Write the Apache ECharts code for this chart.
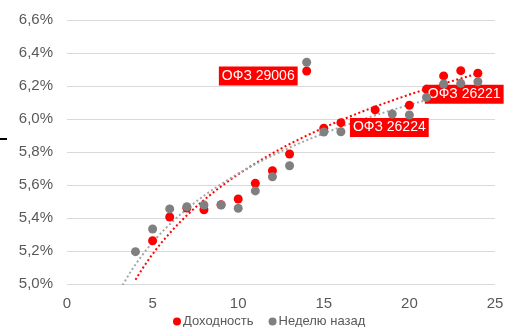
<!DOCTYPE html>
<html>
<head>
<meta charset="utf-8">
<script src="https://cdn.jsdelivr.net/npm/echarts@6/dist/echarts.min.js"></script>
<style>
  html, body { margin: 0; padding: 0; background: #fff; }
  #chart { width: 514px; height: 327px; }
</style>
</head>
<body>
<div id="chart"></div>
<script>
// Years to maturity and yields, %
const yieldX    = [5, 6, 7, 8, 9, 10, 11, 12, 13, 14, 15, 16, 18, 20, 21, 22, 23, 24];
const yieldNow  = [5.262, 5.406, 5.46, 5.45, 5.48, 5.515, 5.61, 5.687, 5.788, 6.291, 5.944, 5.978, 6.055, 6.083, 6.18, 6.261, 6.293, 6.277];

const weekAgoX  = [4, 5, 6, 7, 8, 9, 10, 11, 12, 13, 14, 15, 16, 19, 20, 21, 22, 23, 24];
const weekAgo   = [5.196, 5.333, 5.455, 5.468, 5.479, 5.479, 5.459, 5.564, 5.65, 5.717, 6.344, 5.921, 5.923, 6.03, 6.024, 6.131, 6.212, 6.216, 6.226];

// Bond names shown next to the current-yield points
const bondLabelX    = [14, 16, 21];
const bondLabelText = ['ОФЗ 29006', 'ОФЗ 26224', 'ОФЗ 26221'];

const yTicks = { min: 5.0, max: 6.6, step: 0.2 };
const xTicks = { min: 0, max: 25, step: 5 };

const RED = '#FF0000';
const GREY = '#808080';
const TEXT = '#595959';

// Logarithmic least-squares trend y = a + b*ln(x)
function logTrend(xs, ys) {
  const n = xs.length;
  const lx = xs.map(Math.log);
  const mx = lx.reduce((s, v) => s + v, 0) / n;
  const my = ys.reduce((s, v) => s + v, 0) / n;
  let sxy = 0, sxx = 0;
  for (let i = 0; i < n; i++) {
    sxy += (lx[i] - mx) * (ys[i] - my);
    sxx += (lx[i] - mx) * (lx[i] - mx);
  }
  const b = sxy / sxx;
  const a = my - b * mx;
  const from = Math.min(...xs) - 1;
  const to = Math.max(...xs);
  const pts = [];
  for (let x = from; x <= to + 1e-9; x += 0.1) pts.push([x, a + b * Math.log(x)]);
  return pts;
}

// Label offsets (relative to the symbol box) for each bond name
const labelPlacement = {
  14: { position: [-4.5, 9.5], align: 'right' },
  16: { position: [13.5, 9.3], align: 'left' },
  21: { position: [2.8, 9.5], align: 'left' }
};

const nowData = yieldX.map((x, i) => {
  const li = bondLabelX.indexOf(x);
  if (li < 0) return [x, yieldNow[i]];
  const p = labelPlacement[x];
  return {
    value: [x, yieldNow[i]],
    label: {
      show: true,
      formatter: bondLabelText[li],
      position: p.position,
      align: p.align,
      verticalAlign: 'middle',
      color: '#fff',
      backgroundColor: RED,
      fontFamily: 'Liberation Sans, Arial, sans-serif',
      fontSize: 14,
      padding: [3, 3, 2, 3]
    }
  };
});
const weekData = weekAgoX.map((x, i) => [x, weekAgo[i]]);

const chart = echarts.init(document.getElementById('chart'), null, { renderer: 'canvas' });

chart.setOption({
  animation: false,
  backgroundColor: '#fff',
  textStyle: { fontFamily: 'Liberation Sans, Arial, sans-serif' },
  grid: { left: 67, right: 19, top: 20, bottom: 43, containLabel: false },
  legend: {
    data: [
      { name: 'Доходность', icon: 'circle', itemStyle: { color: RED, opacity: 1 } },
      { name: 'Неделю назад', icon: 'circle', itemStyle: { color: GREY, opacity: 1 } }
    ],
    left: 168,
    top: 310,
    itemWidth: 8,
    itemHeight: 8,
    itemGap: 15,
    textStyle: { color: TEXT, fontSize: 13, padding: [0, 0, 0, -3] }
  },
  xAxis: {
    type: 'value',
    min: xTicks.min,
    max: xTicks.max,
    interval: xTicks.step,
    axisLine: { show: false },
    axisTick: { show: false },
    splitLine: { show: false },
    axisLabel: { color: TEXT, fontSize: 15, margin: 12 }
  },
  yAxis: {
    type: 'value',
    min: yTicks.min,
    max: yTicks.max,
    interval: yTicks.step,
    axisLine: { show: false },
    axisTick: { show: false },
    splitLine: { lineStyle: { color: '#D9D9D9', width: 1 } },
    axisLabel: {
      color: TEXT,
      fontSize: 15,
      margin: 14,
      formatter: v => v.toFixed(1).replace('.', ',') + '%'
    }
  },
  series: [
    {
      name: 'Доходность',
      type: 'scatter',
      symbol: 'circle',
      symbolSize: 9,
      itemStyle: { color: RED, opacity: 1 },
      data: nowData,
      z: 3
    },
    {
      name: 'Неделю назад',
      type: 'scatter',
      symbol: 'circle',
      symbolSize: 9,
      itemStyle: { color: GREY, opacity: 1 },
      data: weekData,
      z: 4
    },
    {
      name: 'trend-now',
      type: 'line',
      showSymbol: false,
      silent: true,
      clip: true,
      smooth: false,
      lineStyle: { color: RED, width: 2, type: [2, 2.5] },
      data: logTrend(yieldX, yieldNow),
      z: 2
    },
    {
      name: 'trend-week',
      type: 'line',
      showSymbol: false,
      silent: true,
      clip: true,
      smooth: false,
      lineStyle: { color: '#A6A6A6', width: 2, type: [2, 2.5] },
      data: logTrend(weekAgoX, weekAgo),
      z: 2
    }
  ],
  graphic: [
    { type: 'rect', left: 0, top: 138, shape: { width: 7, height: 2 }, style: { fill: '#000' } }
  ]
});
</script>
</body>
</html>
